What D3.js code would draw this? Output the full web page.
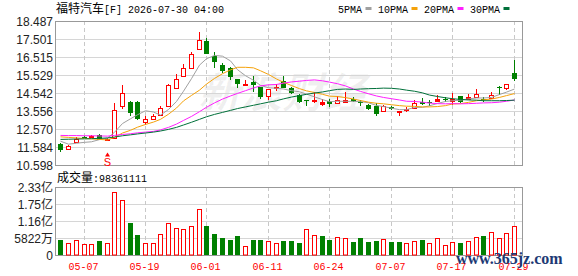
<!DOCTYPE html>
<html>
<head>
<meta charset="utf-8">
<script src="https://cdn.jsdelivr.net/npm/d3@7"></script>
<style>
  body { margin: 0; background: #fff; }
  svg { display: block; }
</style>
</head>
<body>
<div id="chart"></div>
<script>
// ---- data ----
const dates = ['05-04','05-05','05-06','05-07','05-08','05-11','05-12','05-13','05-14','05-15',
  '05-18','05-19','05-20','05-21','05-22','05-26','05-27','05-28','05-29','06-01',
  '06-02','06-03','06-04','06-05','06-08','06-09','06-10','06-11','06-12','06-15',
  '06-16','06-17','06-18','06-22','06-23','06-24','06-25','06-26','06-29','06-30',
  '07-01','07-02','07-06','07-07','07-08','07-09','07-10','07-13','07-14','07-15',
  '07-16','07-17','07-20','07-21','07-22','07-23','07-24','07-27','07-28','07-29'];

const opens = [11.75,11.50,11.85,12.14,12.14,12.22,12.00,12.07,13.81,14.06,
  14.06,12.98,13.14,13.34,13.85,14.84,15.49,15.93,16.97,17.41,
  16.57,16.06,15.93,15.29,15.00,15.16,14.87,14.38,14.86,15.20,
  14.84,14.46,14.17,14.12,13.92,14.11,14.00,14.05,14.21,14.03,
  13.88,13.81,13.57,13.77,13.48,13.65,13.70,14.03,14.03,14.10,
  14.22,14.12,14.37,14.21,14.33,14.22,14.26,14.85,14.81,15.65];
const highs = [11.80,11.70,12.12,12.18,12.22,12.27,12.08,13.99,14.97,14.10,
  14.08,13.27,13.40,13.81,15.05,15.57,16.11,16.81,17.88,17.53,
  16.81,16.16,15.96,15.30,15.26,15.47,14.88,14.75,15.02,15.49,
  14.86,14.47,14.18,14.57,14.22,14.21,14.39,14.57,14.35,14.17,
  13.94,14.00,13.88,13.85,13.57,13.76,14.15,14.26,14.14,14.42,
  14.33,14.53,14.37,14.48,14.75,14.35,14.61,14.93,15.06,16.34];
const lows = [11.33,11.46,11.82,12.07,12.10,11.95,11.98,12.00,13.66,13.30,
  13.07,12.80,13.12,13.27,13.81,14.79,15.45,15.92,16.89,16.68,
  15.93,15.66,15.26,14.79,14.99,14.57,14.24,14.16,14.65,14.80,
  14.50,13.99,13.83,13.99,13.81,13.78,13.94,14.00,14.03,13.85,
  13.63,13.30,13.50,13.63,13.30,13.52,13.66,13.88,13.81,14.03,
  14.06,13.88,13.99,14.21,14.26,14.06,14.21,14.43,14.70,15.20];
const closes = [11.40,11.62,12.03,12.12,12.18,11.98,12.04,13.63,14.53,13.45,
  13.12,13.13,13.28,13.70,14.97,15.33,15.93,16.70,17.43,16.69,
  16.24,15.75,15.40,15.02,15.03,14.98,14.35,14.75,14.89,14.84,
  14.52,14.03,14.14,14.15,14.06,13.96,14.15,14.16,14.08,14.01,
  13.67,13.39,13.85,13.65,13.57,13.67,14.00,13.93,14.01,14.20,
  14.21,14.24,14.06,14.35,14.48,14.20,14.42,14.83,15.02,15.33];
const prevClose = 11.80;

const volumes = [52300000,42200000,51300000,37800000,37800000,48900000,41200000,216700000,189700000,109700000,
  69200000,42200000,42200000,71500000,109700000,91800000,89400000,98600000,155900000,99600000,
  72600000,59100000,52300000,65800000,32100000,52300000,52300000,48900000,42200000,48900000,
  48900000,42200000,88400000,68200000,65800000,52300000,61400000,58000000,45600000,58000000,
  45600000,48900000,54700000,45600000,45600000,42200000,48900000,52300000,42200000,58000000,
  34400000,45600000,42200000,48900000,61400000,65800000,79300000,58000000,75900000,98361111];

const ma5 = [11.90,11.74,11.79,11.84,11.87,11.99,12.07,12.39,12.87,13.13,
  13.35,13.57,13.50,13.33,13.64,14.08,14.64,15.33,16.07,16.42,
  16.60,16.56,16.30,15.82,15.49,15.24,14.96,14.83,14.80,14.76,
  14.67,14.61,14.48,14.33,14.18,14.07,14.09,14.09,14.08,14.07,
  14.01,13.86,13.80,13.71,13.63,13.63,13.75,13.76,13.84,13.97,
  14.08,14.12,14.15,14.22,14.27,14.27,14.30,14.46,14.59,14.76];
const ma10 = [12.14,12.11,12.08,12.05,12.03,12.00,11.97,12.11,12.35,12.50,
  12.67,12.82,12.95,13.10,13.38,13.72,14.11,14.41,14.70,15.03,
  15.34,15.60,15.81,15.95,15.95,15.92,15.76,15.56,15.31,15.13,
  14.95,14.78,14.66,14.57,14.47,14.37,14.35,14.29,14.21,14.13,
  14.04,13.98,13.95,13.90,13.85,13.82,13.81,13.78,13.78,13.80,
  13.85,13.94,13.96,14.03,14.12,14.17,14.21,14.30,14.40,14.51];
const ma20 = [12.22,12.21,12.21,12.20,12.20,12.19,12.18,12.22,12.27,12.31,
  12.36,12.40,12.44,12.52,12.66,12.84,13.04,13.26,13.52,13.76,
  14.00,14.21,14.38,14.52,14.67,14.82,14.93,14.99,15.01,15.08,
  15.15,15.19,15.23,15.26,15.21,15.14,15.05,14.93,14.76,14.63,
  14.50,14.38,14.30,14.23,14.16,14.09,14.08,14.04,13.99,13.96,
  13.95,13.96,13.95,13.96,13.98,14.00,14.01,14.04,14.09,14.16];
const ma30 = [12.00,12.01,12.02,12.03,12.04,12.06,12.08,12.13,12.20,12.25,
  12.30,12.35,12.40,12.46,12.55,12.66,12.79,12.94,13.10,13.24,
  13.37,13.48,13.59,13.69,13.78,13.87,13.95,14.04,14.12,14.22,
  14.32,14.40,14.47,14.54,14.60,14.67,14.74,14.76,14.74,14.76,
  14.78,14.79,14.81,14.80,14.76,14.70,14.64,14.55,14.43,14.35,
  14.28,14.23,14.19,14.16,14.15,14.12,14.12,14.12,14.13,14.15];

const maNames = ['5PMA', '10PMA', '20PMA', '30PMA'];
const maColors = ['#a0a0a0', '#f5a20a', '#ff1fff', '#00703a'];

const priceTicks = [10.598, 11.584, 12.570, 13.556, 14.542, 15.529, 16.515, 17.501, 18.487];
const volTicks = [0, 58220000, 116440000, 174660000, 232880000];
const volTickLabels = ['0', '5822万', '1.16亿', '1.75亿', '2.33亿'];
const xTickLabels = ['05-07', '05-19', '06-01', '06-11', '06-24', '07-07', '07-17', '07-29'];

const stockName = '福特汽车';
const stockInfo = '[F] 2026-07-30 04:00';
const volName = '成交量';
const signalDate = '05-12';

// ---- layout ----
const W = 578, H = 276,
  L = 55, R = 522,
  mainTop = 21, mainBottom = 165,
  volTop = 187, volBottom = 255,
  RED = '#ff0000', GREEN = '#008000',
  MONO = '"Liberation Mono", "DejaVu Sans Mono", monospace',
  CJK = '"Noto Sans CJK SC", sans-serif',
  SANS = '"Liberation Sans", Arial, "Noto Sans CJK SC", sans-serif';

const svg = d3.select('#chart').append('svg')
  .attr('width', W).attr('height', H);

const x = d3.scaleBand().domain(dates).range([56.6, 517.8]),
  cx = d => Math.round(x(d) + x.bandwidth() / 2),
  y = d3.scaleLinear().domain([priceTicks[0], priceTicks[priceTicks.length - 1]])
    .range([mainBottom, mainTop]),
  yv = d3.scaleLinear().domain([0, volTicks[volTicks.length - 1]])
    .range([volBottom, volTop]);

// watermark
svg.append('text')
  .attr('x', 198).attr('y', 108)
  .attr('font-family', CJK).attr('font-size', 42).attr('font-weight', 'bold')
  .attr('font-style', 'italic')
  .attr('fill', '#000').attr('fill-opacity', 0.06)
  .text('新浪财经');

// grid for a panel
function drawPanel(scale, ticks, top, bottom) {
  const g = svg.append('g');
  g.append('g')
    .attr('transform', 'translate(' + L + ',0)')
    .call(d3.axisLeft(scale).tickValues(ticks).tickSize(-(R - L)).tickFormat(''))
    .call(a => a.select('.domain').remove())
    .selectAll('.tick line').attr('stroke', '#d6d6d6');

  g.selectAll('line.vgrid')
    .data(xTickLabels)
    .enter()
    .append('line')
    .attr('class', 'vgrid')
    .attr('x1', d => cx(d) + 0.5).attr('x2', d => cx(d) + 0.5)
    .attr('y1', top).attr('y2', bottom)
    .attr('stroke', '#c8c8c8')
    .attr('stroke-dasharray', '4,3');

  g.append('rect')
    .attr('x', L + 0.5).attr('y', top + 0.5)
    .attr('width', R - L).attr('height', bottom - top)
    .attr('fill', 'none').attr('stroke', '#999');
}

drawPanel(y, priceTicks, mainTop, mainBottom);
drawPanel(yv, volTicks, volTop, volBottom);

// y labels
svg.append('g').selectAll('text')
  .data(priceTicks)
  .enter()
  .append('text')
  .attr('x', 53).attr('y', d => y(d) + 0.5)
  .attr('dy', '0.35em')
  .attr('text-anchor', 'end')
  .attr('font-family', SANS).attr('font-size', 12)
  .attr('fill', '#222')
  .text(d => d.toFixed(3));

svg.append('g').selectAll('text')
  .data(volTicks)
  .enter()
  .append('text')
  .attr('x', 53).attr('y', d => yv(d) + 0.5)
  .attr('dy', '0.35em')
  .attr('text-anchor', 'end')
  .attr('font-family', SANS).attr('font-size', 12)
  .attr('fill', '#222')
  .text((d, i) => volTickLabels[i]);

// x labels
svg.append('g').selectAll('text')
  .data(xTickLabels)
  .enter()
  .append('text')
  .attr('x', d => cx(d) - 0.5).attr('y', 270)
  .attr('text-anchor', 'middle')
  .attr('font-family', MONO).attr('font-size', 10)
  .attr('fill', RED)
  .text(d => d);

// candles
const candles = dates.map((d, i) => ({d, o: opens[i], h: highs[i], l: lows[i], c: closes[i]})),
  isUp = k => k.c >= k.o;

const cg = svg.append('g');
cg.selectAll('line.wick')
  .data(candles)
  .enter()
  .append('line')
  .attr('class', 'wick')
  .attr('x1', k => cx(k.d) + 0.5).attr('x2', k => cx(k.d) + 0.5)
  .attr('y1', k => Math.round(y(k.h))).attr('y2', k => Math.round(y(k.l)))
  .attr('stroke', k => isUp(k) ? RED : GREEN);

cg.selectAll('rect.body')
  .data(candles)
  .enter()
  .append('rect')
  .attr('class', 'body')
  .each(function(k) {
    const top = Math.round(y(Math.max(k.o, k.c))),
      bot = Math.round(y(Math.min(k.o, k.c))),
      el = d3.select(this);
    if (isUp(k)) {
      const hgt = Math.max(1, bot - top);
      el.attr('x', cx(k.d) - 1.5).attr('y', top + 0.5)
        .attr('width', 4).attr('height', hgt)
        .attr('fill', hgt < 3 ? RED : '#fff')
        .attr('stroke', RED);
    } else {
      el.attr('x', cx(k.d) - 2).attr('y', top)
        .attr('width', 5).attr('height', Math.max(1, bot - top))
        .attr('fill', GREEN);
    }
  });

// MA lines
[ma5, ma10, ma20, ma30].forEach((series, s) => {
  svg.append('path')
    .datum(series)
    .attr('fill', 'none')
    .attr('stroke', maColors[s])
    .attr('stroke-width', 1)
    .attr('d', d3.line()
      .x((v, i) => cx(dates[i]) + 0.5)
      .y(v => y(v)));
});

// signal marker
const sx = cx(signalDate) + 0.5;
svg.append('path')
  .attr('d', 'M' + (sx - 2.5) + ',156.5L' + sx + ',152.5L' + (sx + 2.5) + ',156.5Z')
  .attr('fill', RED);
svg.append('text')
  .attr('x', sx).attr('y', 165.5)
  .attr('text-anchor', 'middle')
  .attr('font-family', SANS).attr('font-size', 11)
  .attr('fill', RED)
  .text('S');

// volume bars
const vg = svg.append('g');
vg.selectAll('rect')
  .data(volumes)
  .enter()
  .append('rect')
  .each(function(v, i) {
    const up = closes[i] >= (i ? closes[i - 1] : prevClose),
      top = Math.round(yv(v)),
      c = cx(dates[i]),
      el = d3.select(this);
    if (up) {
      el.attr('x', c - 1.5).attr('y', top + 0.5)
        .attr('width', 4).attr('height', volBottom - top - 0.5)
        .attr('fill', '#fff').attr('stroke', RED);
    } else {
      el.attr('x', c - 2).attr('y', top)
        .attr('width', 5).attr('height', volBottom - top)
        .attr('fill', GREEN);
    }
  });

// title
const title = svg.append('text')
  .attr('x', 56).attr('y', 12.5)
  .attr('fill', '#000');
title.append('tspan').attr('font-family', CJK).attr('font-size', 12).text(stockName);
title.append('tspan').attr('font-family', MONO).attr('font-size', 10).text(stockInfo);

// volume caption
const vcap = svg.append('text')
  .attr('x', 57).attr('y', 181.5)
  .attr('fill', '#000');
vcap.append('tspan').attr('font-family', CJK).attr('font-size', 12).text(volName);
vcap.append('tspan').attr('font-family', MONO).attr('font-size', 10)
  .text(':' + volumes[volumes.length - 1]);

// legend
let lx = 338;
maNames.forEach((name, i) => {
  svg.append('text')
    .attr('x', lx).attr('y', 12.5)
    .attr('font-family', MONO).attr('font-size', 10)
    .attr('fill', '#000')
    .text(name);
  lx += name.length * 6 + 3.5;
  svg.append('rect')
    .attr('x', lx).attr('y', 7)
    .attr('width', 6).attr('height', 3)
    .attr('fill', maColors[i]);
  lx += 6 + 6.5;
});

// site stamp
svg.append('text')
  .attr('x', 456).attr('y', 264)
  .attr('font-family', '"Liberation Serif", serif')
  .attr('font-size', 16).attr('font-weight', 'bold')
  .attr('fill', '#1d3a74')
  .text('www.365jz.com');
</script>
</body>
</html>
